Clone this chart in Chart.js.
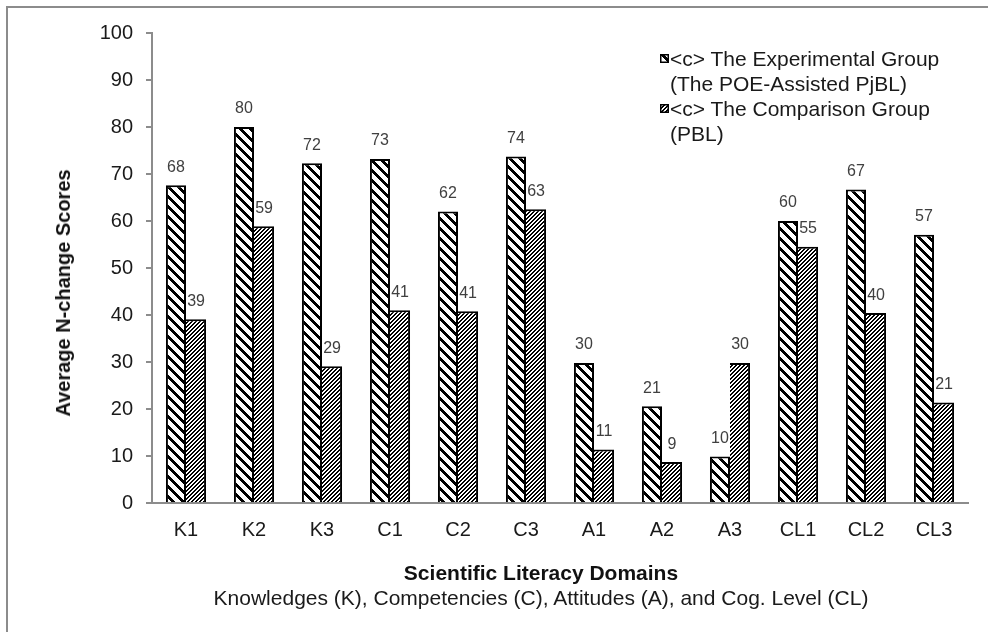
<!DOCTYPE html>
<html><head><meta charset="utf-8">
<script src="https://cdn.jsdelivr.net/npm/chart.js@4.4.1/dist/chart.umd.min.js"></script>
<style>
html,body{margin:0;padding:0;background:#fff;overflow:hidden;}
#wrap{position:relative;width:988px;height:632px;overflow:hidden;}
#frame{position:absolute;left:6px;top:6px;width:1100px;height:800px;border:2px solid #8c8c8c;box-sizing:border-box;}
#c{position:absolute;left:0;top:0;}
#legend{position:absolute;left:660px;top:46px;font:21px "Liberation Sans",Arial,sans-serif;color:#1a1a1a;line-height:25px;}
.row{position:relative;padding-left:10px;white-space:nowrap;height:25px;}
.sw{position:absolute;left:0;top:8px;}
.xt{position:absolute;left:0;width:1082px;text-align:center;font-family:"Liberation Sans",Arial,sans-serif;font-size:21px;line-height:25px;color:#111;white-space:nowrap;}
#yt{position:absolute;left:63px;top:293px;transform:translate(-50%,-50%) rotate(-90deg);font:bold 20px "Liberation Sans",Arial,sans-serif;line-height:24px;color:#111;white-space:nowrap;}
</style></head>
<body>
<div id="wrap">
  <div id="frame"></div>
  <canvas id="c" width="988" height="632"></canvas>
  <div id="legend"></div>
  <div id="yt"></div>
  <div class="xt" id="xt1" style="top:560px;font-weight:bold;"></div>
  <div class="xt" id="xt2" style="top:585px;color:#1a1a1a;"></div>
</div>
<script>
const categories = ['K1','K2','K3','C1','C2','C3','A1','A2','A3','CL1','CL2','CL3'];
const experimental = [67.6, 80.0, 72.3, 73.2, 62.0, 73.7, 29.8, 20.6, 9.9, 60.0, 66.7, 57.1];
const comparison   = [39.1, 58.9, 29.1, 41.0, 40.8, 62.5, 11.4, 8.7, 29.8, 54.5, 40.4, 21.4];
const legendLinesExp = ['<c> The Experimental Group', '(The POE-Assisted PjBL)'];
const legendLinesCmp = ['<c> The Comparison Group', '(PBL)'];
const yAxisTitle = 'Average N-change Scores';
const xAxisTitle = 'Scientific Literacy Domains';
const xAxisSubtitle = 'Knowledges (K), Competencies (C), Attitudes (A), and Cog. Level (CL)';

const FONT = '"Liberation Sans", Arial, sans-serif';

document.getElementById('xt1').textContent = xAxisTitle;
document.getElementById('xt2').textContent = xAxisSubtitle;
document.getElementById('yt').textContent = yAxisTitle;

function makeTile(size, thick, dir){
  const c = document.createElement('canvas'); c.width = size; c.height = size;
  const g = c.getContext('2d');
  g.fillStyle = '#fff'; g.fillRect(0,0,size,size);
  g.fillStyle = '#000';
  for (let y=0;y<size;y++) for (let x=0;x<size;x++){
    const v = dir>0 ? (x+y)%size : ((x-y)%size+size)%size;
    if (v<thick) g.fillRect(x,y,1,1);
  }
  return c;
}
const tileExp = makeTile(10, 4, -1);
const tileCmp = makeTile(4, 2, 1);
const ctx = document.getElementById('c').getContext('2d');
const patExp = ctx.createPattern(tileExp, 'repeat');
const patCmp = ctx.createPattern(tileCmp, 'repeat');

// legend (HTML)
function swatch(tile){
  const s = document.createElement('canvas'); s.width = 9; s.height = 9; s.className = 'sw';
  const g = s.getContext('2d');
  g.fillStyle = g.createPattern(tile,'repeat'); g.fillRect(0,0,9,9);
  g.strokeStyle = '#000'; g.lineWidth = 1.5; g.strokeRect(0.75,0.75,7.5,7.5);
  return s;
}
const lg = document.getElementById('legend');
[[legendLinesExp, tileExp],[legendLinesCmp, tileCmp]].forEach(([lines, tile])=>{
  lines.forEach((t,i)=>{
    const r = document.createElement('div'); r.className='row';
    if (i===0) r.appendChild(swatch(tile));
    r.appendChild(document.createTextNode(t));
    lg.appendChild(r);
  });
});

const valueLabels = {
  id: 'valueLabels',
  afterDatasetsDraw(chart){
    const c = chart.ctx;
    c.save();
    c.font = '16px ' + FONT;
    c.fillStyle = '#404040';
    c.textAlign = 'center'; c.textBaseline = 'middle';
    chart.data.datasets.forEach((ds,i)=>{
      chart.getDatasetMeta(i).data.forEach((el,j)=>{
        c.fillText(String(Math.round(ds.data[j])), el.x, el.y - 18);
      });
    });
    c.restore();
  }
};

new Chart(ctx, {
  type: 'bar',
  data: {
    labels: categories,
    datasets: [
      { label: legendLinesExp.join(' '), data: experimental, backgroundColor: patExp,
        borderColor: '#000', borderWidth: {top:2,left:2,right:2,bottom:0}, borderSkipped: 'start' },
      { label: legendLinesCmp.join(' '), data: comparison, backgroundColor: patCmp,
        borderColor: '#000', borderWidth: {top:2,left:0,right:2,bottom:0}, borderSkipped: 'start' }
    ]
  },
  options: {
    responsive: false,
    animation: false,
    devicePixelRatio: 1,
    categoryPercentage: 0.59,
    barPercentage: 1.0,
    layout: { padding: { top: 33, left: 0, right: 20, bottom: 0 } },
    plugins: {
      legend: { display: false },
      tooltip: { enabled: false }
    },
    scales: {
      x: {
        ticks: { color: '#1a1a1a', font: { family: FONT, size: 20 }, padding: 15 },
        grid: { display: true, drawOnChartArea: false, drawTicks: false },
        border: { color: '#8c8c8c', width: 2 },
        afterFit(s){ s.height = 129; }
      },
      y: {
        min: 0, max: 100,
        ticks: { stepSize: 10, color: '#1a1a1a', font: { family: FONT, size: 20 }, padding: 13 },
        grid: { display: true, drawOnChartArea: false, drawTicks: true, tickLength: 6, color: '#8c8c8c', lineWidth: 2 },
        border: { color: '#8c8c8c', width: 2 },
        afterFit(s){ s.width = 152; }
      }
    }
  },
  plugins: [valueLabels]
});
</script>
</body></html>
